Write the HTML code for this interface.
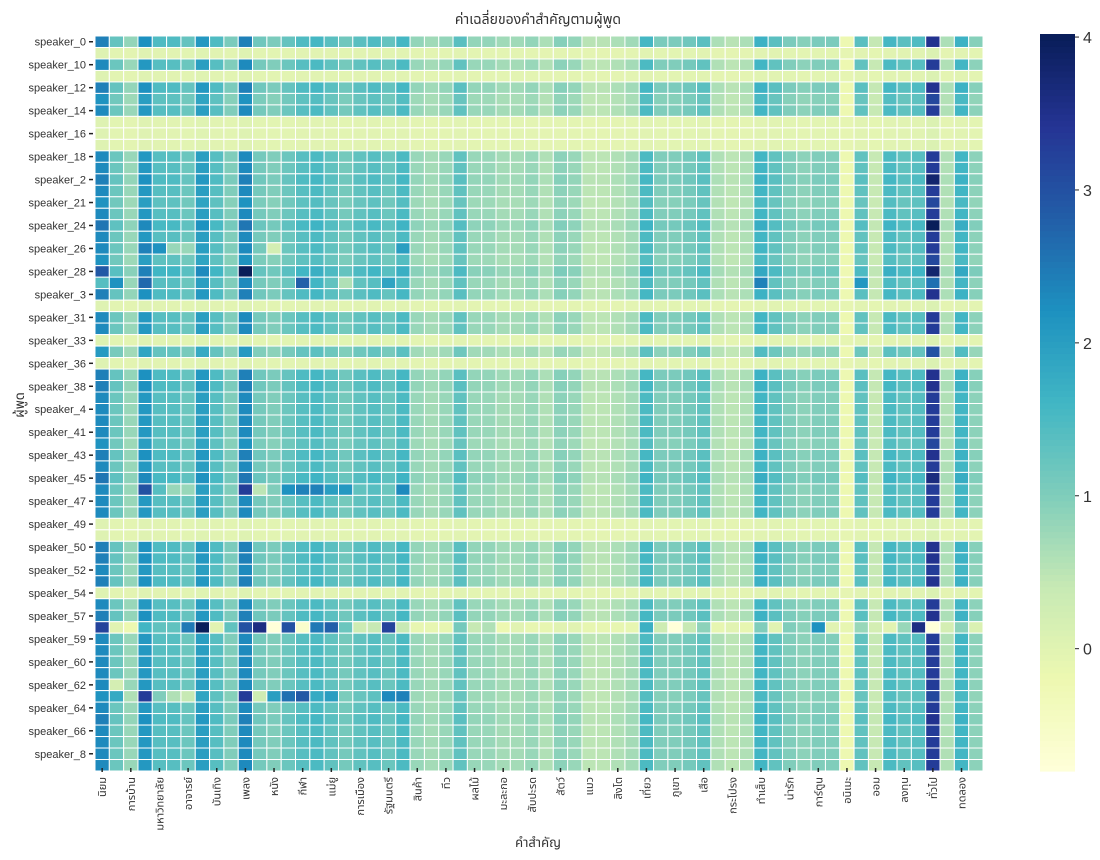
<!DOCTYPE html>
<html><head><meta charset="utf-8">
<style>
html,body{margin:0;padding:0;background:#fff;}
svg{display:block;}
text{font-family:"Liberation Sans","Noto Sans Thai","Garuda","Loma","DejaVu Sans",sans-serif;fill:#333;}
</style></head>
<body>
<svg id="chart" width="1100" height="860" viewBox="0 0 1100 860" xmlns="http://www.w3.org/2000/svg">
<text x="538" y="24" text-anchor="middle" font-size="14">ค่าเฉลี่ยของคำสำคัญตามผู้พูด</text>
<text x="538" y="847" text-anchor="middle" font-size="13">คำสำคัญ</text>
<text x="0" y="0" transform="translate(24,405) rotate(-90)" text-anchor="middle" font-size="13">ผู้พูด</text>
<g id="cells"></g>
<g id="yticks"></g>
<g id="xticks"></g>
<g id="cbar"></g>
</svg>
<script>
const keywordLabels=["นิยม","การบ้าน","มหาวิทยาลัย","อาจารย์","บันเทิง","เพลง","หนัง","กีฬา","แม่ยู","การเมือง","รัฐมนตรี","สินค้า","ทีว","ผลไม้","มะละกอ","สับปะรด","สัตว์","แมว","สิงโต","เที่ยว","ภูเขา","เสือ","กระโปรง","ทำเส็บ","น่ารัก","การ์ตูน","อนิเมะ","ออม","ลงทุน","ทั่วไป","ทดลอง"];
const speakerLabels=["speaker_0","speaker_10","speaker_12","speaker_14","speaker_16","speaker_18","speaker_2","speaker_21","speaker_24","speaker_26","speaker_28","speaker_3","speaker_31","speaker_33","speaker_36","speaker_38","speaker_4","speaker_41","speaker_43","speaker_45","speaker_47","speaker_49","speaker_50","speaker_52","speaker_54","speaker_57","speaker_59","speaker_60","speaker_62","speaker_64","speaker_66","speaker_8"];
const columnProfile=[2.3,1.2,0.8,2.1,1.4,1.4,1.2,2.0,1.4,1.0,2.3,1.1,1.0,1.2,1.4,1.5,1.3,1.1,1.3,1.4,1.2,1.5,0.8,0.7,0.8,1.3,0.8,0.8,0.7,0.7,0.8,0.6,0.9,0.8,0.5,0.5,0.6,0.7,1.5,1.0,1.0,1.1,1.3,0.6,0.5,0.6,1.6,1.3,1.0,0.9,1.0,1.0,-0.2,1.3,0.4,1.5,1.3,1.4,3.3,0.6,1.6,0.9];
const rowScale=[1.05,0.05,1.0,0.05,1.05,0.95,1.0,0.05,0.05,0.05,1.0,1.0,1.05,1.0,0.95,1.0,1.1,1.0,1.0,0.95,1.15,1.0,1.05,0.05,1.0,1.0,0.05,0.9,0.05,1.05,1.05,1.0,1.0,1.0,1.0,0.95,1.05,1.0,1.1,1.0,1.0,1.0,0.05,0.05,1.05,1.05,1.0,1.05,0.05,1.0,1.05,1.0,1.0,1.0,1.0,1.0,1.0,0.95,1.0,1.05,1.0,1.0,1.0,1.0];
const rowOffset=[0,-0.08,0,-0.08,0,0,0,-0.08,-0.08,-0.08,0,0,0,0,0,0,0,0,0,0,0,0,0,-0.08,0,0,-0.08,0,-0.08,0,0,0,0,0,0,0,0,0,0,0,0,0,-0.08,-0.08,0,0,0,0,-0.08,0,0,0,0,0,0,0,0,0,0,0,0,0,0,0];
const speaker58Row=[3.2,0.0,-0.2,1.6,1.3,1.3,2.5,4.0,0.0,1.3,3.0,3.6,-0.8,3.0,-0.6,2.5,2.8,1.2,0.3,0.4,3.2,0.4,-0.1,-0.1,-0.1,1.1,0.4,0.6,-0.2,0.0,-0.1,-0.1,0.0,0.0,-0.1,-0.1,-0.1,-0.1,1.7,0.3,-0.8,0.4,0.9,-0.1,0.0,-0.1,1.0,0.0,1.0,0.9,2.2,0.0,-0.1,0.8,0.2,0.0,0.8,3.6,-0.8,0.2,0.9,0.1];
const overrideRows=[20,20,21,21,21,21,21,21,21,21,21,21,18,18,18,18,18,18,16,12,39,39,39,39,39,39,39,39,39,39,39,57,57,57,57,57,57,57,57,57,57,57,57,57,57,57,56];
const overrideCols=[10,0,0,1,3,14,15,17,20,46,53,58,3,4,5,6,12,21,58,58,3,10,11,13,14,15,16,17,21,5,6,1,2,3,4,5,6,10,11,12,13,14,15,16,20,21,1];
const overrideVals=[4.0,2.9,1.4,2.2,2.7,2.8,1.6,0.6,1.9,2.4,2.1,2.6,2.4,2.2,0.8,0.8,0.2,2.0,4.0,3.8,3.0,3.3,0.5,2.2,2.4,2.4,2.0,2.1,2.3,0.8,0.8,1.8,0.6,3.3,1.0,0.6,0.4,3.3,0.3,2.0,2.6,2.9,1.8,2.0,2.3,2.4,0.2];
const colorbarTicks=[0,1,2,3,4];

const NS="http://www.w3.org/2000/svg";
const NR=64,NC=62,X0=95,X1=983,Y0=36,Y1=771,VMIN=-0.8,VMAX=4.02;
const cw=(X1-X0)/NC,ch=(Y1-Y0)/NR;
const xPos=c=>X0+c*cw, yPos=r=>Y0+r*ch;
const stops=["#ffffd9","#edf8b1","#c7e9b4","#7fcdbb","#41b6c4","#1d91c0","#225ea8","#253494","#081d58"];
function hex(h){return [1,3,5].map(i=>parseInt(h.substr(i,2),16));}
function color(v){let t=(v-VMIN)/(VMAX-VMIN);t=Math.max(0,Math.min(1,t));const p=t*8,i=Math.min(7,Math.floor(p)),f=p-i;const a=hex(stops[i]),b=hex(stops[i+1]);return "rgb("+a.map((x,k)=>Math.round(x+(b[k]-x)*f)).join(",")+")";}
const matrix=[];
for(let r=0;r<NR;r++){matrix.push(columnProfile.map(p=>p*rowScale[r]+rowOffset[r]));}
matrix[51]=speaker58Row.slice();
for(let k=0;k<overrideRows.length;k++){matrix[overrideRows[k]][overrideCols[k]]=overrideVals[k];}
const gC=document.getElementById("cells");
for(let r=0;r<NR;r++)for(let c=0;c<NC;c++){
 const el=document.createElementNS(NS,"rect");
 el.setAttribute("x",xPos(c));el.setAttribute("y",yPos(r));el.setAttribute("width",cw);el.setAttribute("height",ch);
 el.setAttribute("fill",color(matrix[r][c]));el.setAttribute("stroke","#fff");el.setAttribute("stroke-width","1");
 
 
 gC.appendChild(el);
}
const gY=document.getElementById("yticks");
speakerLabels.forEach((s,k)=>{
 const y=yPos(2*k)+ch/2;
 const t=document.createElementNS(NS,"text");
 t.setAttribute("x",86);t.setAttribute("y",y+4);t.setAttribute("text-anchor","end");t.setAttribute("font-size","11");t.textContent=s;
 
 
 gY.appendChild(t);
 const l=document.createElementNS(NS,"line");
 l.setAttribute("x1",89);l.setAttribute("x2",93);l.setAttribute("y1",y);l.setAttribute("y2",y);l.setAttribute("stroke","#222");l.setAttribute("stroke-width","1.5");
 
 
 gY.appendChild(l);
});
const gX=document.getElementById("xticks");
keywordLabels.forEach((s,k)=>{
 const x=xPos(2*k)+cw/2;
 const l=document.createElementNS(NS,"line");
 l.setAttribute("x1",x);l.setAttribute("x2",x);l.setAttribute("y1",768);l.setAttribute("y2",772);l.setAttribute("stroke","#222");l.setAttribute("stroke-width","1.5");
 
 
 gX.appendChild(l);
 const t=document.createElementNS(NS,"text");
 t.setAttribute("transform","translate("+(x+4)+",777) rotate(-90)");t.setAttribute("text-anchor","end");t.setAttribute("font-size","11");t.textContent=s;
 
 
 gX.appendChild(t);
});
const gB=document.getElementById("cbar");
const CB0=1040,CB1=1075,CT=34,CBB=771,steps=120;
for(let i=0;i<steps;i++){
 const v=VMIN+(VMAX-VMIN)*(i+0.5)/steps;
 const el=document.createElementNS(NS,"rect");
 const hh=(CBB-CT)/steps;
 el.setAttribute("x",CB0);el.setAttribute("y",CBB-(i+1)*hh);el.setAttribute("width",CB1-CB0);el.setAttribute("height",hh+0.6);el.setAttribute("fill",color(v));
 
 
 gB.appendChild(el);
}
colorbarTicks.forEach(v=>{
 const y=CBB-(v-VMIN)/(VMAX-VMIN)*(CBB-CT);
 const l=document.createElementNS(NS,"line");
 l.setAttribute("x1",CB1);l.setAttribute("x2",CB1+4);l.setAttribute("y1",y);l.setAttribute("y2",y);l.setAttribute("stroke","#222");
 
 
 gB.appendChild(l);
 const t=document.createElementNS(NS,"text");
 t.setAttribute("x",CB1+8);t.setAttribute("y",y+6);t.setAttribute("font-size","16");t.setAttribute("fill","#222");t.textContent=v;
 
 
 gB.appendChild(t);
});
</script>
</body></html>
